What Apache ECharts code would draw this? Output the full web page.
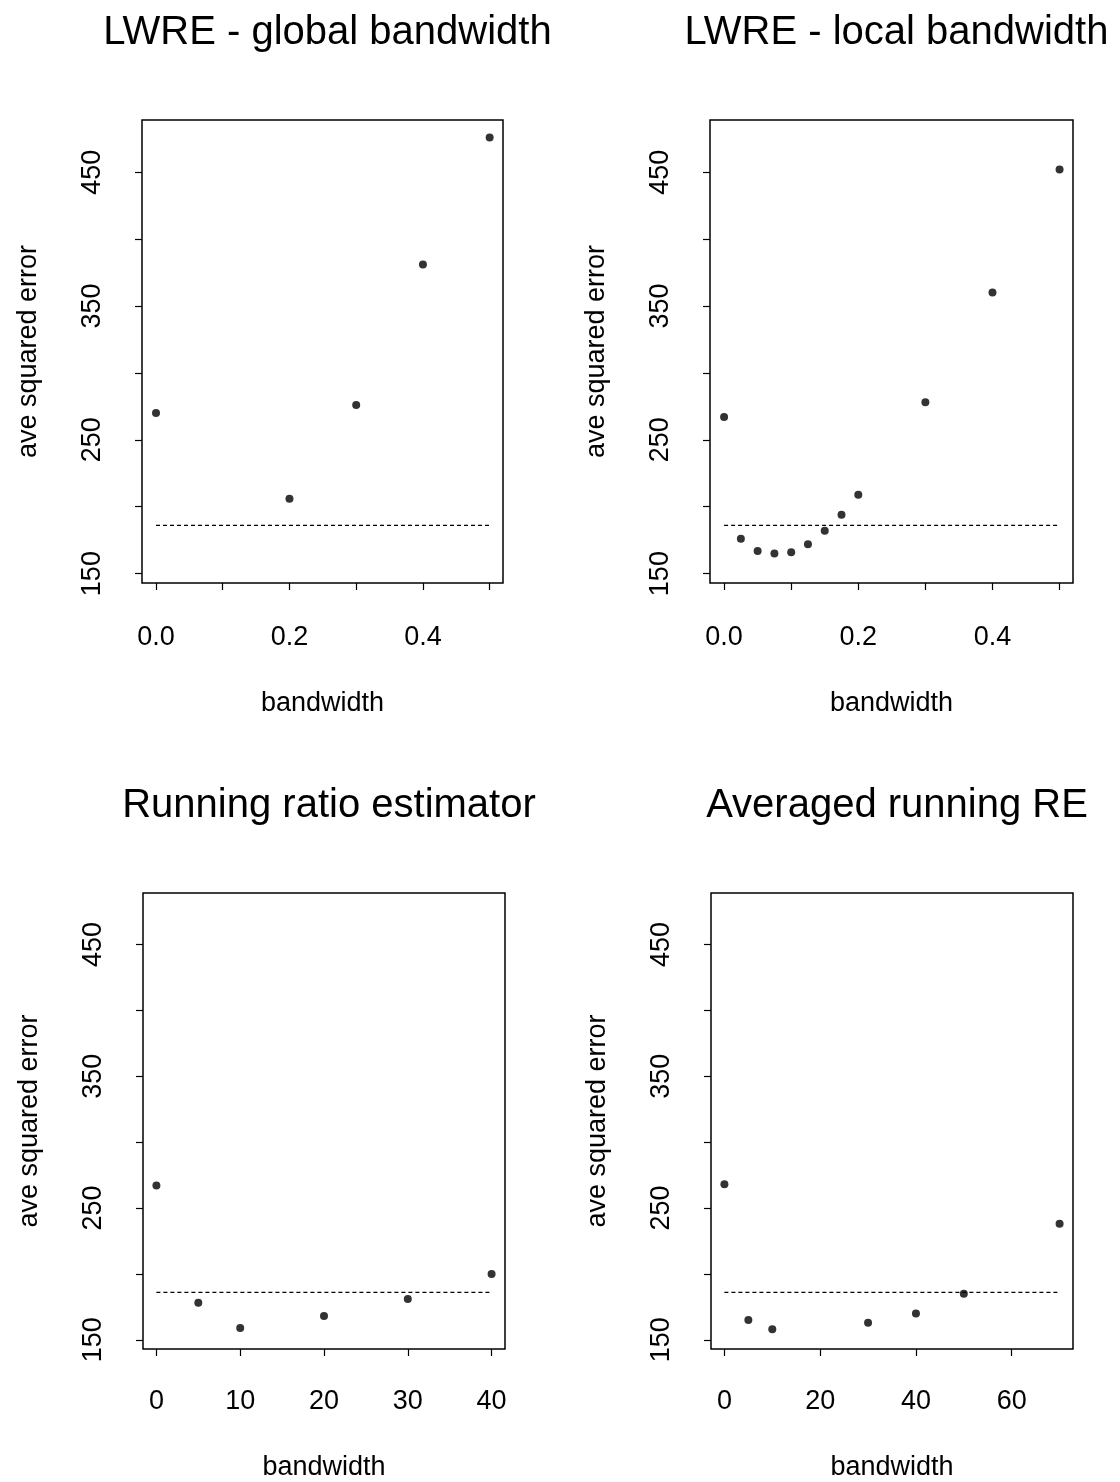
<!DOCTYPE html>
<html>
<head>
<meta charset="utf-8">
<script src="https://cdn.jsdelivr.net/npm/echarts@6/dist/echarts.min.js"></script>
<style>
  html, body { margin: 0; padding: 0; background: #fff; }
  #chart { width: 1120px; height: 1482px; }
</style>
</head>
<body>
<div id="chart"></div>
<script>
// Average squared error against bandwidth for four estimators
const globalBandwidth = [0, 0.2, 0.3, 0.4, 0.5];
const globalAse = [270, 206, 276, 381, 476];

const localBandwidth = [0, 0.025, 0.05, 0.075, 0.1, 0.125, 0.15, 0.175, 0.2, 0.3, 0.4, 0.5];
const localAse = [267, 176, 167, 165, 166, 172, 182, 194, 209, 278, 360, 452];

const runningBandwidth = [0, 5, 10, 20, 30, 40];
const runningAse = [267, 178, 159, 168, 181, 200];

const averagedBandwidth = [0, 5, 10, 30, 40, 50, 70];
const averagedAse = [268, 165, 158, 163, 170, 185, 238];

// horizontal reference level (dotted line)
const referenceAse = 186;

// tick positions and labels
const yTicks = [150, 200, 250, 300, 350, 400, 450];
const yTickLabels = [150, 250, 350, 450];
const lwreTicks = [0, 0.1, 0.2, 0.3, 0.4, 0.5];
const lwreTickLabels = [0, 0.2, 0.4];
const runningTicks = [0, 10, 20, 30, 40];
const averagedTicks = [0, 20, 40, 60];

const titles = ['LWRE - global bandwidth', 'LWRE - local bandwidth', 'Running ratio estimator', 'Averaged running RE'];

const FONT = "'Liberation Sans', Arial, Helvetica, sans-serif";

const panels = [
  { grid: { left: 142, top: 120, width: 361, height: 463 }, xr: [-0.021, 0.52], ticks: lwreTicks, labels: lwreTickLabels, fmt: v => v.toFixed(1), x: globalBandwidth, y: globalAse, xEnd: 0.5, titleTop: 8, labelMargin: 41, nameGapX: 107 },
  { grid: { left: 710, top: 120, width: 363, height: 463 }, xr: [-0.021, 0.52], ticks: lwreTicks, labels: lwreTickLabels, fmt: v => v.toFixed(1), x: localBandwidth, y: localAse, xEnd: 0.5, titleTop: 8, labelMargin: 41, nameGapX: 107 },
  { grid: { left: 143, top: 893, width: 362, height: 457 }, xr: [-1.6, 41.6], ticks: runningTicks, labels: runningTicks, fmt: v => String(v), x: runningBandwidth, y: runningAse, xEnd: 40, titleTop: 781, labelMargin: 39, nameGapX: 105 },
  { grid: { left: 711, top: 893, width: 362, height: 457 }, xr: [-2.8, 72.8], ticks: averagedTicks, labels: averagedTicks, fmt: v => String(v), x: averagedBandwidth, y: averagedAse, xEnd: 70, titleTop: 781, labelMargin: 39, nameGapX: 105 }
];

const option = {
  animation: false,
  backgroundColor: '#fff',
  title: [],
  grid: [],
  xAxis: [],
  yAxis: [],
  series: []
};

panels.forEach((p, i) => {
  option.title.push({
    text: titles[i],
    left: p.grid.left + p.grid.width / 2,
    top: p.titleTop,
    textAlign: 'center',
    textStyle: { fontFamily: FONT, fontSize: 40, fontWeight: 'normal', color: '#000' }
  });
  option.grid.push(Object.assign({ show: true, borderColor: '#000', borderWidth: 1.5, backgroundColor: 'transparent' }, p.grid));
  option.xAxis.push({
    type: 'value', gridIndex: i, min: p.xr[0], max: p.xr[1],
    name: 'bandwidth', nameLocation: 'middle', nameGap: p.nameGapX,
    nameTextStyle: { fontFamily: FONT, fontSize: 27, color: '#000' },
    axisLine: { show: false, onZero: false },
    splitLine: { show: false },
    axisTick: { show: true, length: 7, inside: false, customValues: p.ticks, lineStyle: { color: '#000', width: 1.2 } },
    axisLabel: { show: true, customValues: p.labels, formatter: p.fmt, margin: p.labelMargin, fontFamily: FONT, fontSize: 27, color: '#000' }
  });
  option.yAxis.push({
    type: 'value', gridIndex: i, min: 143, max: 489,
    name: 'ave squared error', nameLocation: 'middle', nameGap: 100, nameRotate: 90,
    nameTextStyle: { fontFamily: FONT, fontSize: 27, color: '#000' },
    axisLine: { show: false, onZero: false },
    splitLine: { show: false },
    axisTick: { show: true, length: 7, inside: false, customValues: yTicks, lineStyle: { color: '#000', width: 1.2 } },
    axisLabel: { show: true, rotate: 90, customValues: yTickLabels, margin: 36, fontFamily: FONT, fontSize: 27, color: '#000' }
  });
  option.series.push({
    type: 'line', xAxisIndex: i, yAxisIndex: i, silent: true,
    showSymbol: false, symbol: 'none',
    lineStyle: { color: '#000', width: 1.3, type: [4, 3] },
    data: [[0, referenceAse], [p.xEnd, referenceAse]]
  });
  option.series.push({
    type: 'scatter', xAxisIndex: i, yAxisIndex: i, silent: true,
    symbol: 'circle', symbolSize: 8,
    itemStyle: { color: '#000' },
    data: p.x.map((v, k) => [v, p.y[k]])
  });
});

const chart = echarts.init(document.getElementById('chart'), null, { renderer: 'canvas' });
chart.setOption(option);
</script>
</body>
</html>
